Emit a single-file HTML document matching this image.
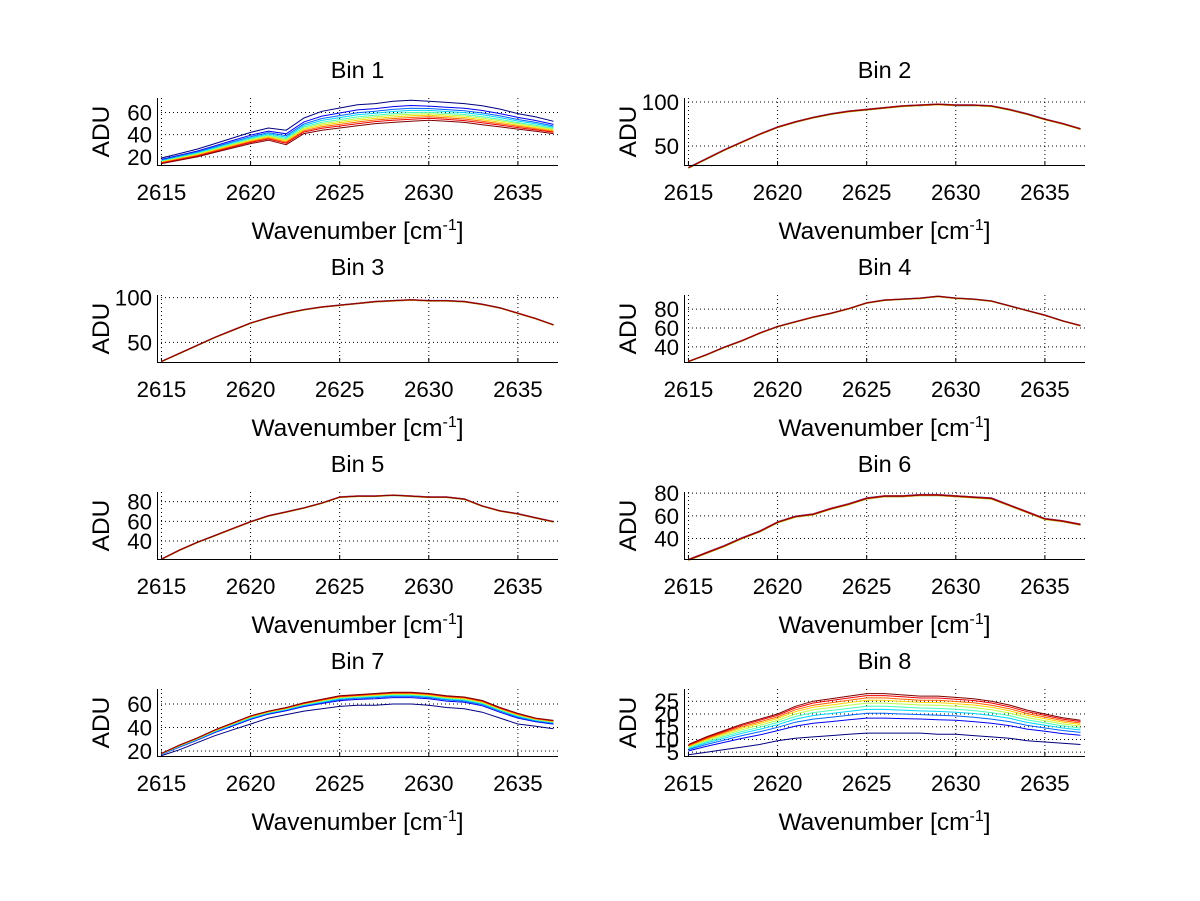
<!DOCTYPE html>
<html><head><meta charset="utf-8"><style>
body{margin:0;background:#fff;}
svg{display:block;font-family:"Liberation Sans",sans-serif;}
</style></head><body>
<svg id="fig" width="1200" height="901"></svg>
<script>
const wavenumbers=[2615,2616,2617,2618,2619,2620,2621,2622,2623,2624,2625,2626,2627,2628,2629,2630,2631,2632,2633,2634,2635,2636,2637];
const xTicks=[2615,2620,2625,2630,2635];
const binTitles=["Bin 1","Bin 2","Bin 3","Bin 4","Bin 5","Bin 6","Bin 7","Bin 8"];
const yLims=[[12.7,73],[28.4,104.5],[28,103],[24,95],[21.7,89.8],[22,81],[15.7,72.8],[3.5,29.8]];
const yTicks=[[20,40,60],[50,100],[50,100],[40,60,80],[40,60,80],[40,60,80],[20,40,60],[5,10,15,20,25]];
const hi1=[19,23,27,32,37,42,46,44,55,61,64,67,68,70,71,70,69,68,66,63,59,56,52];
const lo1=[14,17,20,24,28,32,35,31,41,44,46,48,50,51,52,53,52,51,49,47,45,43,41];
const hi2=[26,36,46,55,64,72,78,83,87,90,92,94,96,97,98,97,97,96,92,87,81,76,70];
const hi3=[29,38,47,56,64,72,78,83,87,90,92,94,96,97,98,97,97,96,93,89,83,77,70];
const hi4=[25,32,40,47,55,62,67,72,76,81,87,90,91,92,94,92,91,89,84,79,74,68,63];
const hi5=[22,31,39,46,53,60,66,70,74,79,85,86,86,87,86,85,85,83,76,71,68,64,60];
const hi6=[22,28,34,41,47,55,60,62,67,71,76,78,78,79,79,78,77,76,70,64,58,56,53];
const hi7=[18,25,31,38,44,50,54,57,61,64,67,68,69,70,70,69,67,66,63,57,52,48,46];
const lo7=[16,21,27,33,38,43,48,51,54,56,58,59,59,60,60,59,57,56,53,48,43,41,39];
const hi8=[8,11,13.5,16,18,20,23,25,26,27,28,28,27.5,27,27,26.5,26,25,23.5,21.5,20,18.5,17.5];
const lo8=[4,5,6,7,8,9.5,10.5,11,11.5,12,12.5,12.5,12.5,12.5,12,12,11.5,11,10.5,9.5,9,8.5,8];
const spreads=[0,1.5,1,1,1,1.5,0,0];
const frac1=[1,0.75,0.62,0.52,0.42,0.34,0.26,0.18,0.1,0];
const frac7=[0,0.55,0.65,0.72,0.78,0.83,0.88,0.92,0.96,1];
const frac8=[0,0.38,0.5,0.6,0.68,0.76,0.83,0.89,0.95,1];
const fracFlat=[0.5,0.2,0.9,0.4,0.7,0.1,0.6,0.3,0.8,0.5];

const NS="http://www.w3.org/2000/svg";
const svg=document.getElementById('fig');
function mk(t,a,p){const e=document.createElementNS(NS,t);for(const k in a)e.setAttribute(k,a[k]);(p||svg).appendChild(e);return e;}
function jet(t){const c=v=>Math.round(255*Math.max(0,Math.min(1,v)));return `rgb(${c(1.5-Math.abs(4*t-3))},${c(1.5-Math.abs(4*t-2))},${c(1.5-Math.abs(4*t-1))})`;}
const X0=2614.75,X1=2637.25,W=401,H=67;
const lefts=[157,684],tops=[98,295,492,689];
const seriesDefs=[
 [hi1,lo1,frac1],[hi2,null,fracFlat],[hi3,null,fracFlat],[hi4,null,fracFlat],
 [hi5,null,fracFlat],[hi6,null,fracFlat],[hi7,lo7,frac7],[hi8,lo8,frac8]];
for(let b=0;b<8;b++){
 const L=lefts[b%2],T=tops[Math.floor(b/2)];
 const sx=v=>L+(v-X0)/(X1-X0)*W;
 const [y0,y1]=yLims[b];
 const sy=v=>T+H-(v-y0)/(y1-y0)*H;
 const g=mk('g',{});
 
 
 const title=mk('text',{x:L+W/2,y:T-20,'text-anchor':'middle','font-size':23.5},g);
 title.textContent=binTitles[b];
 
 
 xTicks.forEach(v=>{
  const gl=mk('line',{x1:sx(v),x2:sx(v),y1:T,y2:T+H,stroke:'#000','stroke-width':1,'stroke-dasharray':'1,3'},g);
  
  
  mk('line',{x1:sx(v),x2:sx(v),y1:T+H,y2:T+H-4,stroke:'#000'},g);
  const t=mk('text',{x:sx(v),y:T+H+35,'text-anchor':'middle','font-size':22.3},g);
  t.textContent=v;
  
  
 });
 yTicks[b].forEach(v=>{
  const gl=mk('line',{x1:L,x2:L+W,y1:sy(v),y2:sy(v),stroke:'#000','stroke-width':1,'stroke-dasharray':'1,3'},g);
  
  
  const t=mk('text',{x:L-5,y:sy(v)+8,'text-anchor':'end','font-size':22.3},g);
  t.textContent=v;
  
  
 });
 const [hi,lo,fr]=seriesDefs[b];
 for(let i=0;i<10;i++){
  const pts=wavenumbers.map((w,k)=>{
   const l=lo?lo[k]:hi[k]-spreads[b];
   const v=l+(hi[k]-l)*fr[i];
   return sx(w).toFixed(1)+','+sy(v).toFixed(1);
  }).join(' ');
  const pl=mk('polyline',{points:pts,fill:'none',stroke:jet(i/9),'stroke-width':1},g);
  
  
 }
 const ax=mk('path',{d:`M${L+.5},${T} V${T+H+.5} H${L+W}`,fill:'none',stroke:'#000','stroke-width':1},g);
 
 
 const xl=mk('text',{x:L+W/2,y:T+H+74,'text-anchor':'middle','font-size':24.5},g);
 xl.innerHTML='Wavenumber [cm<tspan dy="-9" font-size="16">-1</tspan><tspan dy="9">]</tspan>';
 
 
 const lx=L-48,ly=T+H/2;
 const yl=mk('text',{x:lx,y:ly,'text-anchor':'middle','font-size':24.5,transform:`rotate(-90 ${lx} ${ly})`},g);
 yl.textContent='ADU';
 
 
}
</script>
</body></html>
